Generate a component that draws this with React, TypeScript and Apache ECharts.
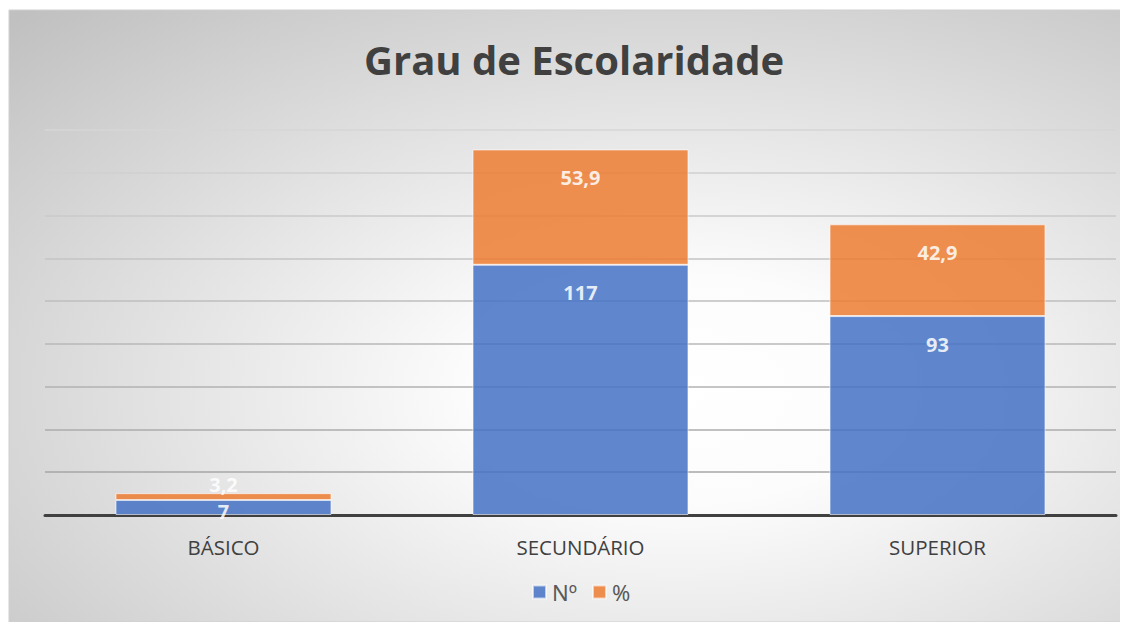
import React, { useEffect, useRef } from "react";
import * as echarts from "echarts";

const categories = ["BÁSICO", "SECUNDÁRIO", "SUPERIOR"];
const countValues = [7, 117, 93];
const pctValues = [3.2, 53.9, 42.9];
const seriesNames = ["Nº", "%"];
const axisMin = 0;
const axisMax = 180;
const axisInterval = 20;

const FONT = "'Open Sans', 'Noto Sans', sans-serif";
const fmt = (v: number) => String(v).replace(".", ",");

export default function App() {
  const ref = useRef<HTMLDivElement>(null);
  useEffect(() => {
    if (!ref.current) return;
    const chart = echarts.init(ref.current, undefined, { renderer: "svg" });
    const W = 1120;
    const H = 614;
    const labelBase = {
      show: true,
      position: "insideTop" as const,
      distance: 18,
      color: "#ffffff",
      fontFamily: FONT,
      fontWeight: "bold" as const,
      fontSize: 20,
      formatter: (p: any) => fmt(p.value),
    };
    const countData = countValues.map((v, i) =>
      i === 0
        ? { value: v, label: { position: "inside", offset: [0, 4] } }
        : { value: v }
    );
    const pctData = pctValues.map((v, i) =>
      i === 0
        ? { value: v, label: { position: "inside", offset: [0, -12] } }
        : { value: v }
    );
    chart.setOption({
      animation: false,
      graphic: [
        {
          type: "rect",
          z: -10,
          silent: true,
          shape: { x: 1, y: 2, width: W - 1, height: H - 2 },
          style: {
            fill: new echarts.graphic.RadialGradient(0.6, 0.62, 0.85, [
              { offset: 0, color: "#ffffff" },
              { offset: 0.22, color: "#fcfcfc" },
              { offset: 1, color: "#c0c0c0" },
            ]),
            stroke: "#cfcfcf",
            lineWidth: 1,
          },
        },
      ],
      title: {
        text: "Grau de Escolaridade",
        left: 351,
        top: 26,
        textStyle: {
          fontFamily: FONT,
          fontWeight: "bold",
          fontSize: 40,
          color: "#404040",
        },
      },
      legend: {
        data: seriesNames,
        left: 519,
        top: 568,
        itemWidth: 13,
        itemHeight: 13,
        itemGap: 15,
        icon: "rect",
        textStyle: {
          fontFamily: "'Noto Sans', 'Open Sans', sans-serif",
          fontSize: 22,
          color: "#595959",
          padding: [0, 0, 0, 1],
        },
      },
      grid: { left: 37, right: 12, top: 122, bottom: 107 },
      xAxis: {
        type: "category",
        data: categories,
        axisLine: { lineStyle: { color: "#404040", width: 3 } },
        axisTick: { show: false },
        axisLabel: {
          fontFamily: FONT,
          fontSize: 20.5,
          color: "#404040",
          margin: 21,
        },
      },
      yAxis: {
        type: "value",
        min: axisMin,
        max: axisMax,
        interval: axisInterval,
        axisLabel: { show: false },
        axisLine: { show: false },
        axisTick: { show: false },
        splitLine: {
          lineStyle: {
            width: 1.5,
            color: new echarts.graphic.LinearGradient(
              0,
              122,
              0,
              507,
              [
                { offset: 0, color: "#d6d6d6" },
                { offset: 1, color: "#a0a0a0" },
              ],
              true
            ),
          },
        },
      },
      series: [
        {
          name: seriesNames[0],
          type: "bar",
          stack: "total",
          barWidth: "60.5%",
          data: countData,
          itemStyle: {
            color: "#4472c4",
            opacity: 0.85,
            borderColor: "rgba(255,255,255,0.7)",
            borderWidth: 1,
          },
          label: labelBase,
        },
        {
          name: seriesNames[1],
          type: "bar",
          stack: "total",
          barWidth: "60.5%",
          data: pctData,
          itemStyle: {
            color: "#ed7d31",
            opacity: 0.85,
            borderColor: "rgba(255,255,255,0.7)",
            borderWidth: 1,
          },
          label: labelBase,
        },
      ],
    });
    return () => chart.dispose();
  }, []);
  return <div ref={ref} style={{ width: 1120, height: 614 }} />;
}
